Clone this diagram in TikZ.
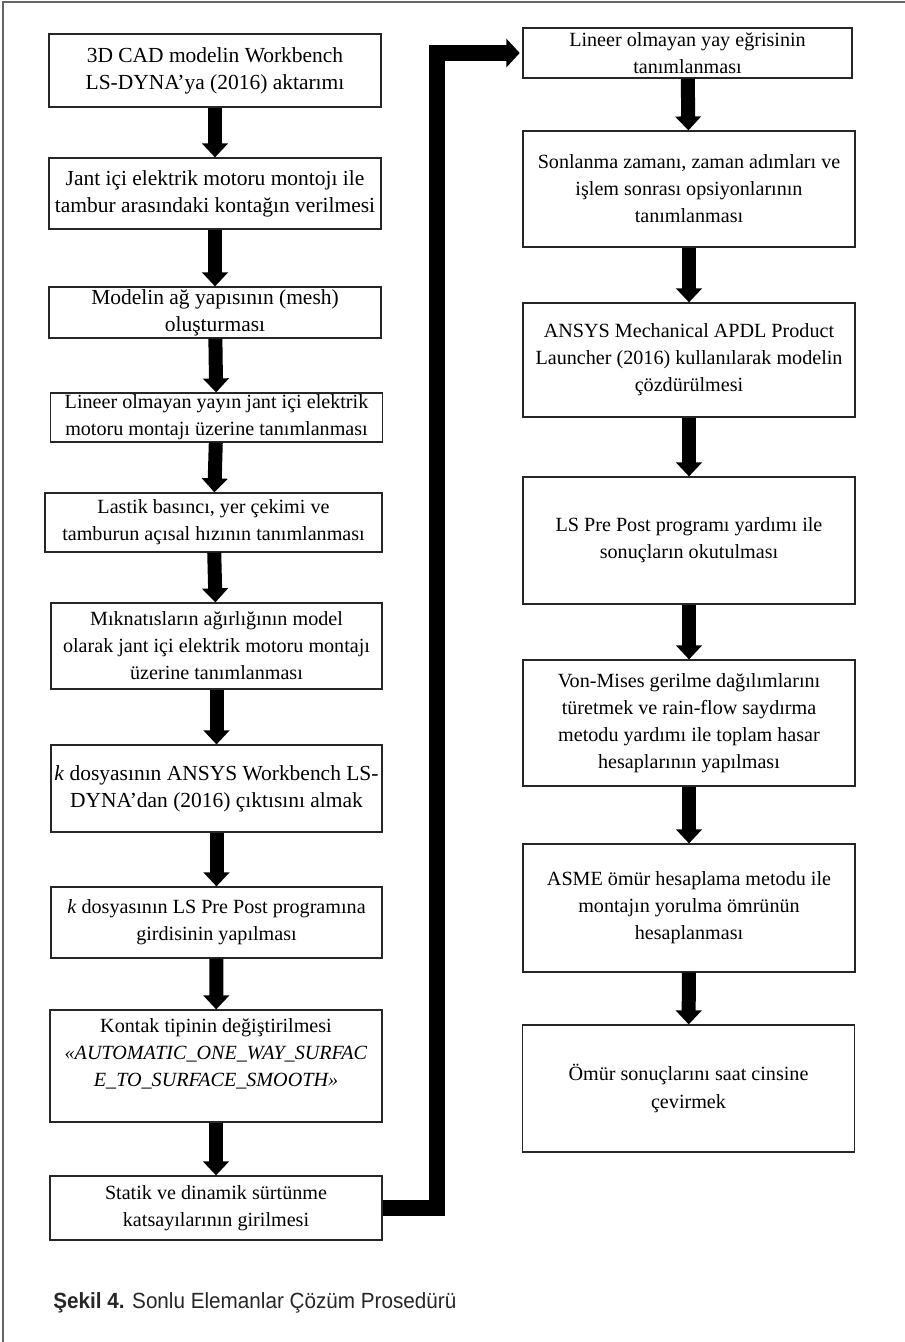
\documentclass[tikz,border=0pt]{standalone}
\usepackage{fontspec}
\setmainfont{Liberation Serif}
\newfontfamily\capfont[FakeStretch=0.94]{Liberation Sans}
\usetikzlibrary{arrows.meta}

\begin{document}
\begin{tikzpicture}[x=0.75pt,y=-0.75pt,
    box/.style={draw=black!85,line width=0.9pt,rectangle,align=center,inner sep=0pt,
        minimum width=249pt,font=\fontsize{16.1}{20.3}\selectfont},
    sbox/.style={box,font=\fontsize{15.1}{20.3}\selectfont},
    flow/.style={line width=10.5pt,-{Triangle[width=19pt,length=10.5pt]}},
    longflow/.style={line width=12pt,line join=miter,-{Triangle[width=21pt,length=10pt]},shorten >=2pt}]
    \useasboundingbox (0,0) rectangle (905,1342);
    \draw[black!60,line width=1.1pt] (3,1342) -- (3,2) -- (905,2);

    % left column
    \node[box,minimum height=54.75pt] (a1) at (215,70.5) {3D CAD modelin Workbench\\LS-DYNA’ya (2016) aktarımı};
    \node[box,minimum height=53.25pt] (a2) at (215,193.5) {Jant içi elektrik motoru montojı ile\\tambur arasındaki kontağın verilmesi};
    \node[box,minimum height=38.25pt] (a3) at (215,312.5) {Modelin ağ yapısının (mesh)\\oluşturması};
    \node[sbox,minimum height=36.75pt] (a4) at (216.5,417.5) {Lineer olmayan yayın jant içi elektrik\\motoru montajı üzerine tanımlanması};
    \node[sbox,minimum height=44.25pt,minimum width=252.75pt] (a5) at (213.5,522.5) {Lastik basıncı, yer çekimi ve\\tamburun açısal hızının tanımlanması};
    \node[sbox,minimum height=64.5pt,minimum width=248.25pt] (a6) at (216.5,646) {Mıknatısların ağırlığının model\\olarak jant içi elektrik motoru montajı\\üzerine tanımlanması};
    \node[box,minimum height=65.25pt,minimum width=248.25pt] (a7) at (216.5,788.5) {\textit{k} dosyasının ANSYS Workbench LS-\\DYNA’dan (2016) çıktısını almak};
    \node[sbox,minimum height=53.25pt,minimum width=248.25pt] (a8) at (216.5,922.5) {\textit{k} dosyasının LS Pre Post programına\\girdisinin yapılması};
    \node[sbox,minimum height=84pt] (a9) at (216,1066) {Kontak tipinin değiştirilmesi\\\textit{«AUTOMATIC\_ONE\_WAY\_SURFAC}\\\textit{E\_TO\_SURFACE\_SMOOTH»}\\\mbox{}};
    \node[sbox,minimum height=48pt] (a10) at (216,1208) {Statik ve dinamik sürtünme\\katsayılarının girilmesi};

    % right column
    \node[sbox,minimum height=37.5pt,minimum width=246.75pt] (b1) at (687.5,53) {Lineer olmayan yay eğrisinin\\tanımlanması};
    \node[sbox,minimum height=87pt] (b2) at (689,189) {Sonlanma zamanı, zaman adımları ve\\işlem sonrası opsiyonlarının\\tanımlanması};
    \node[sbox,minimum height=85.5pt] (b3) at (689,360) {ANSYS Mechanical APDL Product\\Launcher (2016) kullanılarak modelin\\çözdürülmesi};
    \node[sbox,minimum height=95.25pt] (b4) at (689,540.5) {LS Pre Post programı yardımı ile\\sonuçların okutulması};
    \node[sbox,minimum height=94.5pt] (b5) at (689,723) {Von-Mises gerilme dağılımlarını\\türetmek ve rain-flow saydırma\\metodu yardımı ile toplam hasar\\hesaplarının yapılması};
    \node[sbox,minimum height=96pt] (b6) at (689,908) {ASME ömür hesaplama metodu ile\\montajın yorulma ömrünün\\hesaplanması};
    \node[sbox,minimum height=95.25pt] (b7) at (688.5,1088.5) {Ömür sonuçlarını saat cinsine\\çevirmek};

    \foreach \i/\j in {a1/a2,a2/a3,a3/a4,a4/a5,a5/a6,a6/a7,a7/a8,a8/a9,a9/a10,
        b1/b2,b2/b3,b3/b4,b4/b5,b5/b6,b6/b7}
        \draw[flow] (\i) -- (\j);

    \coordinate (turn) at (436.5,53);
    \draw[longflow] (a10.east) -| (turn) -- (b1.west);

    \node[anchor=west,inner sep=0pt,font=\capfont\fontsize{16.5}{19}\selectfont,text=black!85] (cap) at (53,1303) {\textbf{Şekil 4.} Sonlu Elemanlar Çözüm Prosedürü};
\end{tikzpicture}
\end{document}
